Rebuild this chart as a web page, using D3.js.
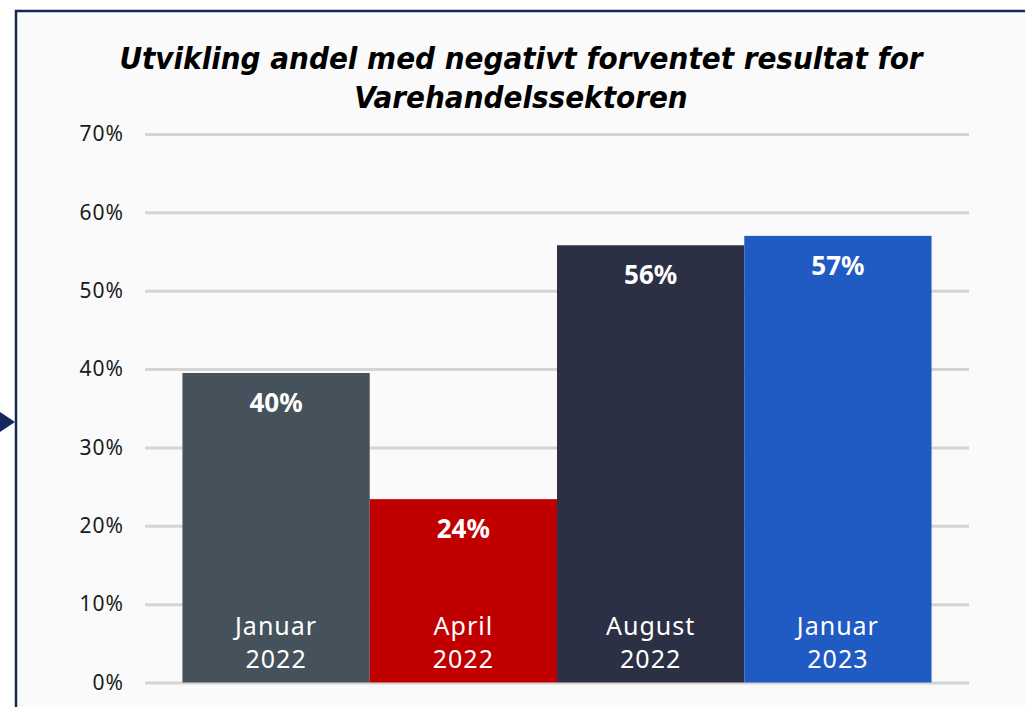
<!DOCTYPE html>
<html>
<head>
<meta charset="utf-8">
<script src="https://cdn.jsdelivr.net/npm/d3@7"></script>
<style>
  body { margin: 0; background: #ffffff; }
  svg { display: block; }
</style>
</head>
<body>
<div id="chart"></div>
<script>
var titleLines = ["Utvikling andel med negativt forventet resultat for", "Varehandelssektoren"]
var periods = [["Januar", "2022"], ["April", "2022"], ["August", "2022"], ["Januar", "2023"]]
var shares = [0.395, 0.234, 0.558, 0.570]
var shareLabels = ["40%", "24%", "56%", "57%"]
var barColors = ["#46525b", "#c00000", "#2b3044", "#1f5bc2"]
var yTicks = [0, 0.1, 0.2, 0.3, 0.4, 0.5, 0.6, 0.7]

var W = 1025, H = 707

var svg = d3.select("#chart").append("svg")
  .attr("width", W)
  .attr("height", H)

// panel frame
svg.append("rect")
  .attr("x", 16).attr("y", 11)
  .attr("width", W + 20).attr("height", H + 20)
  .attr("fill", "#fafafa")
  .attr("stroke", "#14285e")
  .attr("stroke-width", 2.5)

// little arrow on the left edge
svg.append("path")
  .attr("d", "M0,412 L15,422 L0,432 Z")
  .attr("fill", "#14285e")

// title
svg.append("text")
  .attr("font-family", "'DejaVu Sans Condensed', 'DejaVu Sans', sans-serif")
  .attr("font-style", "italic")
  .attr("font-weight", "bold")
  .attr("font-size", 31)
  .attr("text-anchor", "middle")
  .attr("fill", "#000")
  .selectAll("tspan")
  .data(titleLines)
  .enter().append("tspan")
  .attr("x", 521)
  .attr("y", function (d, i) { return 69 + i * 39 })
  .text(function (d) { return d })

var x = d3.scaleBand()
  .domain(d3.range(periods.length))
  .range([145, 969])
  .paddingInner(0)
  .paddingOuter(0.2)

var y = d3.scaleLinear()
  .domain([0, 0.7])
  .range([682.5, 134])

// gridlines + tick labels
var yAxis = d3.axisLeft(y)
  .tickValues(yTicks)
  .tickFormat(function (d) { return Math.round(d * 100) + "%" })
  .tickSize(-(969 - 145))
  .tickPadding(21)

var ax = svg.append("g")
  .attr("transform", "translate(145,0)")
  .call(yAxis)

ax.select(".domain").remove()
ax.selectAll(".tick line")
  .attr("stroke", "#d4d4d4")
  .attr("stroke-width", 3)
ax.selectAll(".tick text")
  .attr("font-family", "'Noto Sans', sans-serif")
  .attr("font-size", 21)
  .attr("letter-spacing", 1)
  .attr("fill", "#1a1a1a")

// bars
svg.selectAll(".bar")
  .data(shares)
  .enter().append("rect")
  .attr("class", "bar")
  .attr("x", function (d, i) { return x(i) })
  .attr("y", function (d) { return y(d) })
  .attr("width", x.bandwidth())
  .attr("height", function (d) { return y(0) - y(d) })
  .attr("fill", function (d, i) { return barColors[i] })

// value labels
svg.selectAll(".val")
  .data(shares)
  .enter().append("text")
  .attr("class", "val")
  .attr("x", function (d, i) { return x(i) + x.bandwidth() / 2 })
  .attr("y", function (d) { return y(d) + 39 })
  .attr("text-anchor", "middle")
  .attr("font-family", "'Noto Sans', sans-serif")
  .attr("font-weight", "bold")
  .attr("font-size", 26)
  .attr("fill", "#ffffff")
  .text(function (d, i) { return shareLabels[i] })

// category labels inside bars
var cat = svg.selectAll(".cat")
  .data(periods)
  .enter().append("text")
  .attr("class", "cat")
  .attr("text-anchor", "middle")
  .attr("font-family", "'Noto Sans', sans-serif")
  .attr("font-size", 25)
  .attr("letter-spacing", 1)
  .attr("fill", "#ffffff")

cat.selectAll("tspan")
  .data(function (d, i) { return d.map(function (s) { return {s: s, i: i} }) })
  .enter().append("tspan")
  .attr("x", function (d) { return x(d.i) + x.bandwidth() / 2 })
  .attr("y", function (d, j) { return 635 + j * 33 })
  .text(function (d) { return d.s })
</script>
</body>
</html>
